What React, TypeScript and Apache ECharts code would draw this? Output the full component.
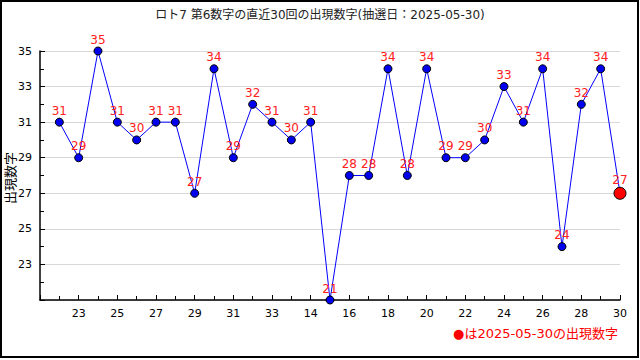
import React, { useEffect, useRef } from "react";
import * as echarts from "echarts";

const titleText = "ロト7 第6数字の直近30回の出現数字(抽選日：2025-05-30)";
const yAxisName = "出現数字";
const legendText = "●は2025-05-30の出現数字";
// x labels for positions 1..30
const categories = [
  "22", "23", "24", "25", "26", "27", "28", "29", "30", "31", "32", "33",
  "13", "14", "15", "16", "17", "18", "19", "20", "21", "22", "23", "24",
  "25", "26", "27", "28", "29", "30",
];
const values = [
  31, 29, 35, 31, 30, 31, 31, 27, 34, 29, 32, 31, 30, 31, 21,
  28, 28, 34, 28, 34, 29, 29, 30, 33, 31, 34, 24, 32, 34, 27,
];

export default function App() {
  const ref = useRef<HTMLDivElement>(null);
  useEffect(() => {
    const chart = echarts.init(ref.current!, null, { renderer: "svg" });
    const font = "'DejaVu Sans', 'Noto Sans CJK JP', sans-serif";
    const data = values.map((v, i) => {
      const last = i === values.length - 1;
      return {
        value: [i + 1, v],
        symbolSize: last ? 12 : 8,
        itemStyle: last
          ? { color: "#ff0000", borderColor: "#000", borderWidth: 1 }
          : { color: "#0000ee", borderColor: "#000", borderWidth: 1 },
      };
    });
    chart.setOption({
      animation: false,
      backgroundColor: "#fff",
      textStyle: { fontFamily: font },
      title: {
        text: titleText,
        left: "center",
        top: 4,
        textStyle: { fontSize: 12, fontWeight: "normal", color: "#222", fontFamily: font },
      },
      grid: { left: 40, right: 20, top: 51, bottom: 60, containLabel: false, outerBoundsMode: "none" },
      xAxis: {
        type: "value",
        min: 0,
        max: 30,
        interval: 2,
        axisLine: { lineStyle: { color: "#000", width: 1.5 } },
        axisTick: { show: true, inside: true, length: 5, lineStyle: { color: "#000" } },
        minorTick: { show: true, splitNumber: 2, length: 4, lineStyle: { color: "#000" } },
        splitLine: { show: false },
        axisLabel: {
          color: "#000",
          fontSize: 11,
          margin: 8,
          formatter: (v: number) => (v >= 1 && v <= 30 ? categories[v - 1] : ""),
        },
      },
      yAxis: {
        type: "value",
        min: 21,
        max: 35,
        interval: 2,
        axisLine: { show: true, lineStyle: { color: "#000", width: 1.5 } },
        axisTick: { show: true, inside: true, length: 5, lineStyle: { color: "#000" } },
        minorTick: { show: true, splitNumber: 2, length: 4, lineStyle: { color: "#000" } },
        splitLine: { show: true, lineStyle: { color: "#d8d8d8", width: 1 } },
        axisLabel: {
          color: "#000",
          fontSize: 11,
          margin: 8,
          formatter: (v: number) => (v === 21 ? "" : String(v)),
        },
      },
      series: [
        {
          type: "line",
          data,
          lineStyle: { color: "#0000ff", width: 1 },
          symbol: "circle",
          label: {
            show: true,
            position: "top",
            distance: 1,
            color: "#ff2020",
            fontSize: 12,
            formatter: (p: any) => String(p.value[1]),
          },
          z: 3,
        },
      ],
      graphic: [
        {
          type: "rect",
          shape: { x: 1, y: 1, width: 637, height: 356 },
          style: { fill: "none", stroke: "#000", lineWidth: 2 },
          silent: true,
        },
        {
          type: "text",
          x: 10,
          y: 178,
          rotation: Math.PI / 2,
          style: {
            text: yAxisName,
            fill: "#000",
            font: `13px ${font}`,
            align: "center",
            verticalAlign: "middle",
          },
        },
        {
          type: "text",
          right: 22,
          top: 327,
          style: { text: legendText, fill: "#ff0000", font: `13px ${font}` },
        },
      ],
    });
    return () => chart.dispose();
  }, []);
  return (
    <div
      ref={ref}
      style={{ position: "fixed", left: 0, top: 0, width: 640, height: 360 }}
    />
  );
}
